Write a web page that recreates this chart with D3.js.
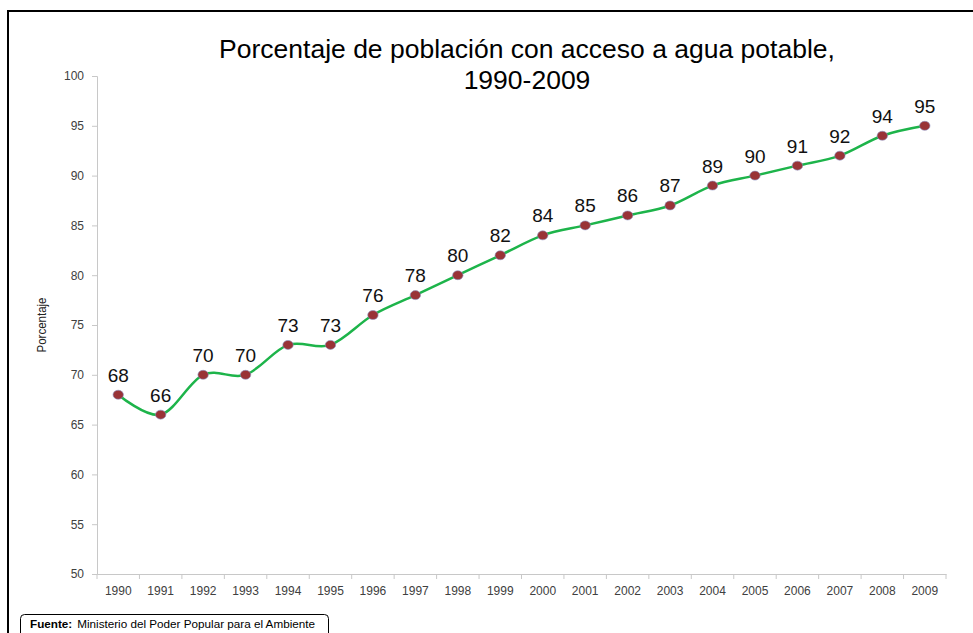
<!DOCTYPE html>
<html><head><meta charset="utf-8">
<script src="https://cdn.jsdelivr.net/npm/d3@7"></script>
<style>body{margin:0;background:#fff}svg{display:block;font-family:Arial,"Liberation Sans",sans-serif}</style>
</head><body>
<svg id="c" width="973" height="633"></svg>
<script>
const years = ["1990","1991","1992","1993","1994","1995","1996","1997","1998","1999","2000","2001","2002","2003","2004","2005","2006","2007","2008","2009"];
const values = [68,66,70,70,73,73,76,78,80,82,84,85,86,87,89,90,91,92,94,95];
const yTicks = [50,55,60,65,70,75,80,85,90,95,100];
const titleLines = ["Porcentaje de población con acceso a agua potable,","1990-2009"];
const yTitle = "Porcentaje";
const sourceLabel = "Fuente:";
const sourceText = "Ministerio del Poder Popular para el Ambiente";

const svg = d3.select("#c");
// frame
svg.append("rect").attr("x",8).attr("y",11).attr("width",980).attr("height",640)
  .attr("fill","none").attr("stroke","#000").attr("stroke-width",2);

const L=97, R=946, T=76, B=574;
const x = d3.scaleBand().domain(years).range([L,R]);
const y = d3.scaleLinear().domain([50,100]).range([B,T]);

// title
svg.append("text").attr("x",527).attr("y",0).attr("text-anchor","middle")
  .attr("font-size",26.5).attr("fill","#000")
  .selectAll("tspan").data(titleLines).join("tspan")
  .attr("x",527).attr("y",(d,i)=>58+i*31).text(d=>d);

// y axis
const ya = svg.append("g").attr("transform",`translate(${L},0)`)
  .call(d3.axisLeft(y).tickValues(yTicks).tickSize(5).tickPadding(8));
ya.select(".domain").attr("stroke","#c8c8c8");
ya.selectAll(".tick line").attr("stroke","#c8c8c8");
ya.selectAll("text").attr("font-size",12).attr("fill","#404040").attr("font-family","Arial,'Liberation Sans',sans-serif");

// x axis
const xa = svg.append("g").attr("transform",`translate(0,${B})`)
  .call(d3.axisBottom(x).tickSize(0).tickPadding(12));
xa.select(".domain").attr("stroke","#c8c8c8");
xa.selectAll("text").attr("font-size",12).attr("fill","#404040").attr("font-family","Arial,'Liberation Sans',sans-serif");
// ticks at band boundaries
const bounds = years.map(d=>x(d)).concat([x(years[years.length-1])+x.bandwidth()]);
xa.selectAll(".bt").data(bounds).join("line").attr("class","bt")
  .attr("x1",d=>d).attr("x2",d=>d).attr("y1",0).attr("y2",5).attr("stroke","#c8c8c8");

// y title
svg.append("text").attr("transform","translate(46,325) rotate(-90)")
  .attr("text-anchor","middle").attr("font-size",13.5).attr("fill","#222")
  .attr("textLength",55).attr("lengthAdjust","spacingAndGlyphs").text(yTitle);

// line
const cx = d=>x(d)+x.bandwidth()/2;
const line = d3.line().x((d,i)=>cx(years[i])).y(d=>y(d)).curve(d3.curveCardinal.tension(0));
svg.append("path").datum(values).attr("d",line).attr("fill","none")
  .attr("stroke","#1db44a").attr("stroke-width",2.5);

// points
svg.selectAll(".pt").data(values).join("ellipse").attr("class","pt")
  .attr("cx",(d,i)=>cx(years[i])).attr("cy",d=>y(d)).attr("rx",5.2).attr("ry",4.5)
  .attr("fill","#993337").attr("stroke","#8a8fbf").attr("stroke-width",0.6);

// labels
svg.selectAll(".lb").data(values).join("text").attr("class","lb")
  .attr("x",(d,i)=>cx(years[i])).attr("y",d=>y(d)-13).attr("text-anchor","middle")
  .attr("font-size",19).attr("fill","#111").text(d=>d);

// source box
svg.append("rect").attr("x",20.5).attr("y",614.5).attr("width",308).attr("height",24).attr("rx",4)
  .attr("fill","#fff").attr("stroke","#000").attr("stroke-width",1);
const st = svg.append("text").attr("x",30).attr("y",627.5).attr("font-size",11.7).attr("fill","#000");
st.append("tspan").attr("font-weight","bold").text(sourceLabel);
st.append("tspan").attr("dx",5).text(sourceText);
</script>
</body></html>
